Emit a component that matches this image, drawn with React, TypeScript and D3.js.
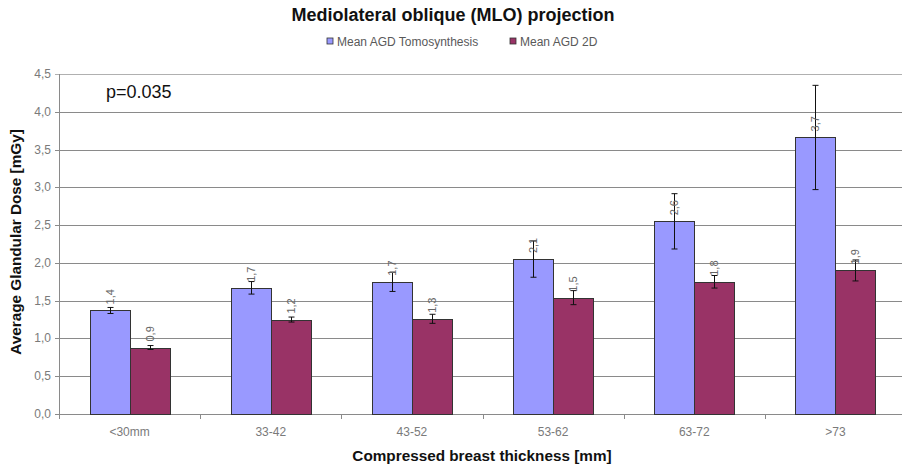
import React from "react";
import * as d3 from "d3";

const categories = ["<30mm", "33-42", "43-52", "53-62", "63-72", ">73"];
const seriesNames = ["Mean AGD Tomosynthesis", "Mean AGD 2D"];
const tomoValues = [1.37, 1.67, 1.75, 2.05, 2.55, 3.66];
const tomoErrors = [0.04, 0.083, 0.128, 0.24, 0.366, 0.69];
const tomoLabels = ["1,4", "1,7", "1,7", "2,1", "2,6", "3,7"];
const twoDValues = [0.88, 1.25, 1.26, 1.54, 1.75, 1.9];
const twoDErrors = [0.026, 0.033, 0.06, 0.093, 0.083, 0.139];
const twoDLabels = ["0,9", "1,2", "1,3", "1,5", "1,8", "1,9"];
const yTicks = [0, 0.5, 1, 1.5, 2, 2.5, 3, 3.5, 4, 4.5];
const seriesColors = ["#9999FF", "#993366"];

const W = 902;
const H = 466;
const left = 59;
const right = 906;
const top = 74;
const bottom = 414;
const font = "Liberation Sans, Arial, sans-serif";

export default function App() {
  const x0 = d3.scaleBand<string>().domain(categories).range([left, right]);
  const x1 = d3
    .scaleBand<string>()
    .domain(seriesNames)
    .range([0, x0.bandwidth()])
    .paddingInner(0)
    .paddingOuter(0.765);
  const y = d3.scaleLinear().domain([0, 4.5]).range([bottom, top]);
  const fmt = (v: number) => d3.format(".1f")(v).replace(".", ",");

  const series = [
    { name: seriesNames[0], values: tomoValues, errors: tomoErrors, labels: tomoLabels, color: seriesColors[0] },
    { name: seriesNames[1], values: twoDValues, errors: twoDErrors, labels: twoDLabels, color: seriesColors[1] },
  ];

  return (
    <svg width={W} height={H} style={{ position: "absolute", left: 0, top: 0, background: "#fff" }} fontFamily={font}>
      <rect x={0} y={0} width={W} height={H} fill="#fff" />
      {/* title */}
      <text x={453} y={21} textAnchor="middle" fontSize={18} fontWeight="bold" fill="#111">
        Mediolateral oblique (MLO) projection
      </text>
      {/* legend */}
      {series.map((s, i) => {
        const lx = i === 0 ? 327 : 510;
        return (
          <g key={s.name}>
            <rect x={lx} y={38} width={6} height={6} fill={s.color} stroke="#333" strokeWidth={0.8} />
            <text x={lx + 10} y={45.5} fontSize={12} fill="#595959">
              {s.name}
            </text>
          </g>
        );
      })}
      {/* gridlines */}
      {yTicks.map((t) => (
        <line
          key={t}
          x1={left - 4}
          x2={W}
          y1={Math.round(y(t)) + 0.5}
          y2={Math.round(y(t)) + 0.5}
          stroke={t === 4.5 ? "#b0b0b0" : "#8a8a8a"}
          strokeWidth={1}
        />
      ))}
      {yTicks.map((t) => (
        <text key={"l" + t} x={51} y={y(t) + 4} textAnchor="end" fontSize={12} fill="#7a7a7a">
          {fmt(t)}
        </text>
      ))}
      {/* axes */}
      <line x1={left + 0.5} x2={left + 0.5} y1={top} y2={bottom + 5} stroke="#8a8a8a" />
      {categories.map((c) => (
        <line
          key={"t" + c}
          x1={Math.round(x0(c)!) + 0.5}
          x2={Math.round(x0(c)!) + 0.5}
          y1={bottom}
          y2={bottom + 5}
          stroke="#8a8a8a"
        />
      ))}
      {categories.map((c) => (
        <text key={"c" + c} x={x0(c)! + x0.bandwidth() / 2} y={436} textAnchor="middle" fontSize={12} fill="#7a7a7a">
          {c}
        </text>
      ))}
      {/* bars */}
      {series.map((s) =>
        categories.map((c, i) => {
          const bx = x0(c)! + x1(s.name)!;
          const bw = x1.bandwidth();
          const by = y(s.values[i]);
          return (
            <rect
              key={s.name + c}
              x={Math.round(bx) + 0.5}
              y={Math.round(by) + 0.5}
              width={Math.round(bw)}
              height={Math.round(y(0)) - Math.round(by)}
              fill={s.color}
              stroke="#333"
              strokeWidth={1}
            />
          );
        })
      )}
      {/* error bars */}
      {series.map((s) =>
        categories.map((c, i) => {
          const cx = Math.round(x0(c)! + x1(s.name)! + x1.bandwidth() / 2) + 0.5;
          const yHi = y(s.values[i] + s.errors[i]);
          const yLo = y(s.values[i] - s.errors[i]);
          return (
            <g key={"e" + s.name + c} stroke="#111" strokeWidth={1}>
              <line x1={cx} x2={cx} y1={yHi} y2={yLo} />
              <line x1={cx - 3} x2={cx + 3} y1={yHi} y2={yHi} />
              <line x1={cx - 3} x2={cx + 3} y1={yLo} y2={yLo} />
            </g>
          );
        })
      )}
      {/* data labels */}
      {series.map((s) =>
        categories.map((c, i) => {
          const cx = x0(c)! + x1(s.name)! + x1.bandwidth() / 2;
          const ly = y(s.values[i]) - 6;
          return (
            <text
              key={"d" + s.name + c}
              transform={`translate(${cx + 4},${ly}) rotate(-90)`}
              fontSize={11}
              fill="#666"
            >
              {s.labels[i]}
            </text>
          );
        })
      )}
      {/* p-value */}
      <text x={106} y={98} fontSize={18} fill="#111">
        p=0.035
      </text>
      {/* axis titles */}
      <text transform={`translate(21,242) rotate(-90)`} textAnchor="middle" fontSize={15.3} fontWeight="bold" fill="#111">
        Average Glandular Dose [mGy]
      </text>
      <text x={482} y={461} textAnchor="middle" fontSize={15.3} fontWeight="bold" fill="#111">
        Compressed breast thickness [mm]
      </text>
    </svg>
  );
}
